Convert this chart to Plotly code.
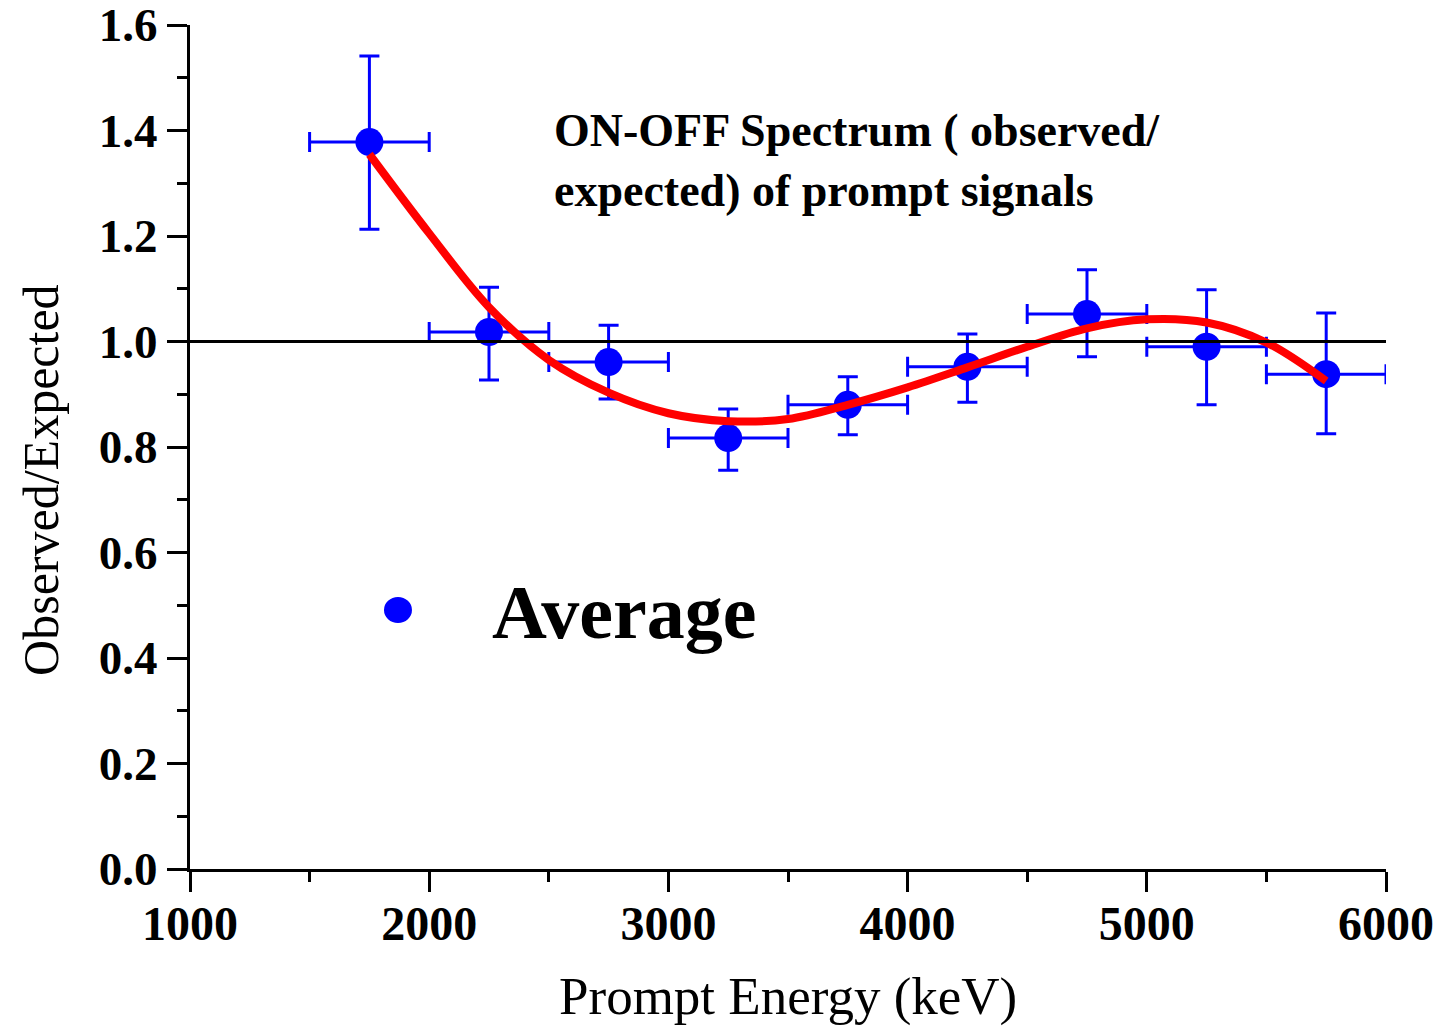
import plotly.graph_objects as go

# ---- data ----
energy = [1750, 2250, 2750, 3250, 3750, 4250, 4750, 5250, 5750]
ratio = [1.378, 1.018, 0.961, 0.817, 0.880, 0.952, 1.052, 0.990, 0.938]
err_up = [0.163, 0.085, 0.070, 0.055, 0.053, 0.062, 0.084, 0.108, 0.116]
err_down = [0.165, 0.091, 0.070, 0.061, 0.057, 0.067, 0.081, 0.110, 0.113]
energy_err = [250, 250, 250, 250, 250, 250, 250, 250, 250]

fit_x = [1750, 2000, 2250, 2500, 2750, 3000, 3250, 3500, 3750, 4000, 4250, 4500, 4750, 5000, 5250, 5500, 5750]
fit_y = [1.355, 1.205, 1.065, 0.965, 0.903, 0.864, 0.849, 0.853, 0.880, 0.913, 0.951, 0.990, 1.025, 1.042, 1.036, 0.998, 0.925]

ref_line = 1.0

x_ticks = [1000, 2000, 3000, 4000, 5000, 6000]
y_ticks = [0.0, 0.2, 0.4, 0.6, 0.8, 1.0, 1.2, 1.4, 1.6]

SERIF = "Liberation Serif, Times New Roman, serif"

fig = go.Figure()

fig.add_trace(go.Scatter(
    x=energy, y=ratio, mode="markers",
    marker=dict(color="#0000ff", size=28),
    error_y=dict(type="data", symmetric=False, array=err_up, arrayminus=err_down,
                 color="#0000ff", thickness=3, width=10),
    error_x=dict(type="data", array=energy_err, color="#0000ff", thickness=3, width=10),
    showlegend=False, name="Average",
))

fig.add_trace(go.Scatter(
    x=fit_x, y=fit_y, mode="lines",
    line=dict(color="#ff0000", width=8, shape="spline", smoothing=1.0),
    showlegend=False,
))

fig.add_shape(type="line", xref="paper", x0=0, x1=1, yref="y", y0=ref_line, y1=ref_line,
              line=dict(color="black", width=3))

# legend key (manual)
fig.add_shape(type="circle", xref="paper", yref="paper",
              x0=0.1622, x1=0.1856, y0=0.2915, y1=0.3223,
              fillcolor="#0000ff", line=dict(color="#0000ff", width=0))
fig.add_annotation(text="<b>Average</b>", xref="paper", yref="paper", x=0.2508, y=0.3045,
                   xanchor="left", yanchor="middle", showarrow=False,
                   font=dict(family=SERIF, size=76, color="black"))

fig.add_annotation(text="<b>ON-OFF Spectrum ( observed/<br>expected) of prompt signals</b>",
                   xref="paper", yref="paper", x=0.3027, y=0.908,
                   xanchor="left", yanchor="top", align="left", showarrow=False,
                   font=dict(family=SERIF, size=46, color="black"))

fig.add_annotation(text="Observed/Expected", xref="paper", yref="paper", x=-0.1246, y=0.461,
                   xanchor="center", yanchor="middle", textangle=-90, showarrow=False,
                   font=dict(family=SERIF, size=50, color="black"))
fig.add_annotation(text="Prompt Energy (keV)", xref="paper", yref="paper", x=0.5, y=-0.151,
                   xanchor="center", yanchor="middle", showarrow=False,
                   font=dict(family=SERIF, size=53, color="black"))

fig.update_layout(
    width=1440, height=1027,
    margin=dict(l=190, r=54, t=25, b=158),
    paper_bgcolor="white", plot_bgcolor="white",
    xaxis=dict(range=[1000, 6000], tickvals=x_ticks, ticktext=[str(v) for v in x_ticks],
               automargin=False, ticklabeloverflow="allow", ticklabelstandoff=-10,
               showgrid=False, zeroline=False, showline=True, linecolor="black", linewidth=3,
               ticks="outside", ticklen=20, tickwidth=3, tickcolor="black",
               minor=dict(dtick=500, ticks="outside", ticklen=10, tickwidth=3, tickcolor="black", showgrid=False),
               tickfont=dict(family=SERIF, size=48, color="black", weight="bold")),
    yaxis=dict(range=[0, 1.6], tickvals=y_ticks, ticktext=[f"{v:.1f}" for v in y_ticks],
               automargin=False, ticklabeloverflow="allow",
               showgrid=False, zeroline=False, showline=True, linecolor="black", linewidth=3,
               ticks="outside", ticklen=20, tickwidth=3, tickcolor="black",
               minor=dict(dtick=0.1, ticks="outside", ticklen=10, tickwidth=3, tickcolor="black", showgrid=False),
               tickfont=dict(family=SERIF, size=47, color="black", weight="bold")),
)

fig.write_html("out.html")
